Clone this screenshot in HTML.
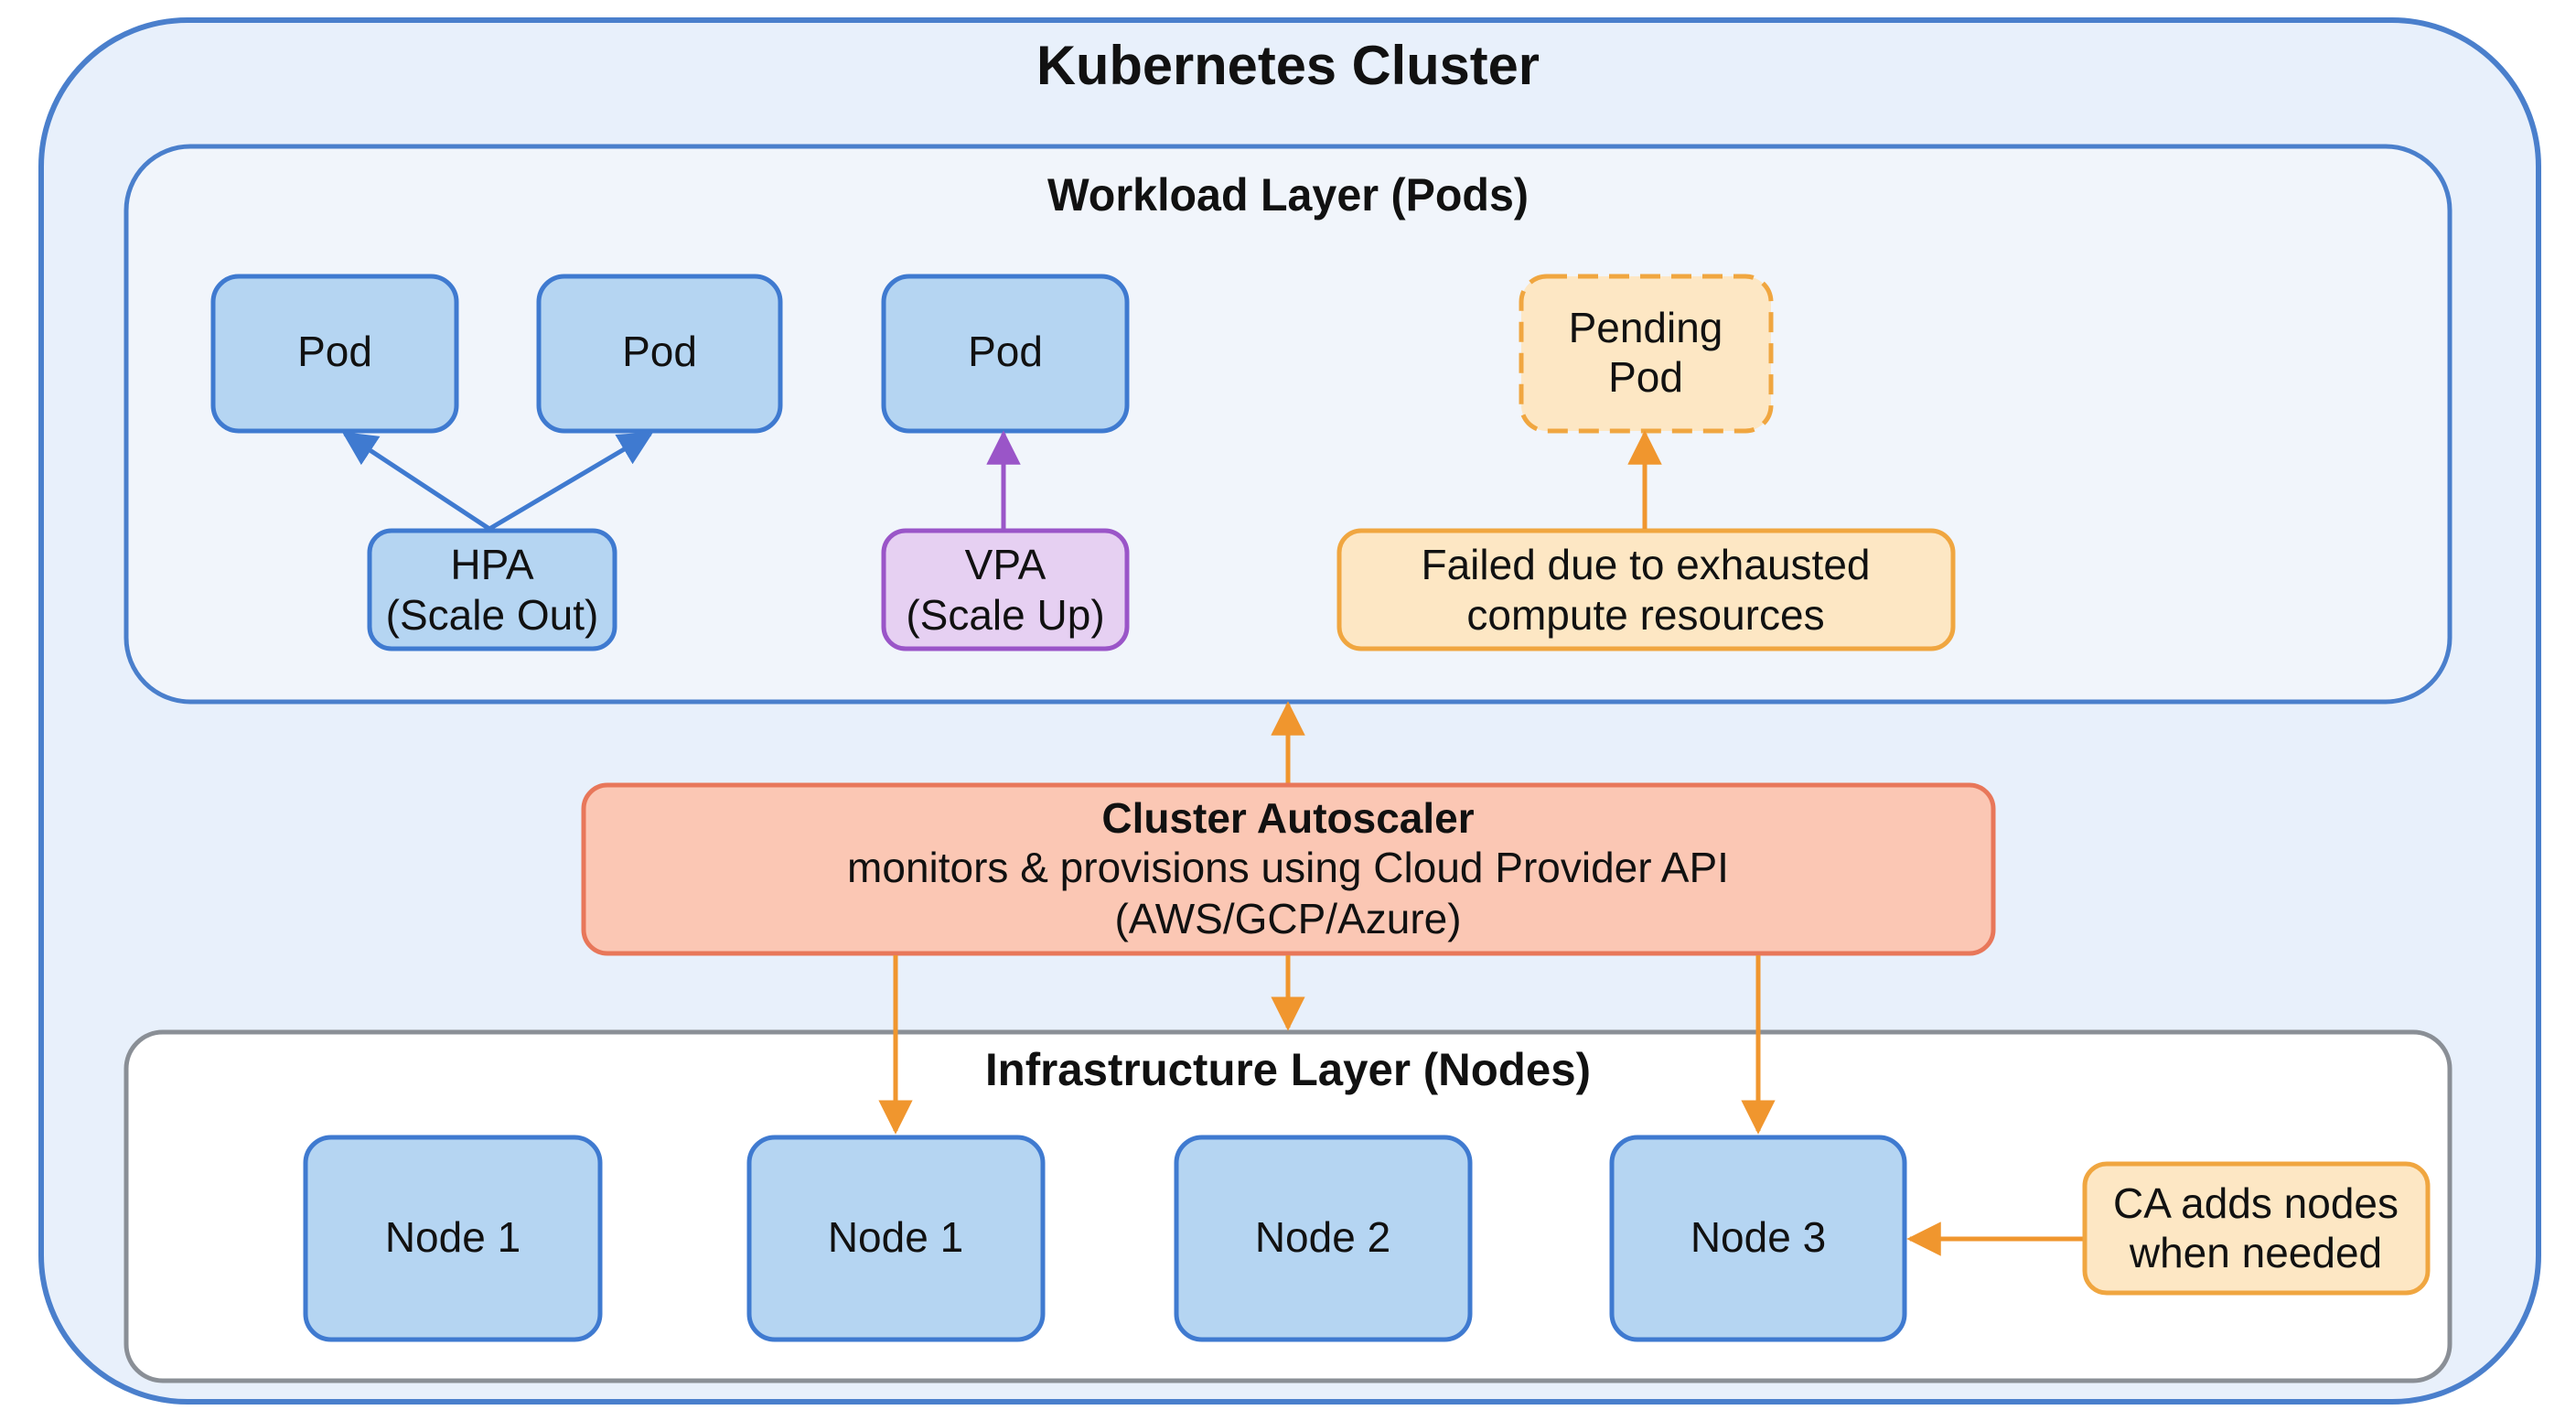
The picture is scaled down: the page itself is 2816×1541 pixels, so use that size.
<!DOCTYPE html>
<html><head><meta charset="utf-8"><style>
body{margin:0;width:2816px;height:1536px;background:#fff;overflow:hidden;font-family:"Liberation Sans",sans-serif}
</style></head><body>
<svg width="2816" height="1536" viewBox="0 0 2816 1536" xmlns="http://www.w3.org/2000/svg" font-family="Liberation Sans, sans-serif">
<defs>
<marker id="ab" viewBox="0 0 10 10" refX="9" refY="5" markerWidth="7.5" markerHeight="7.5" orient="auto-start-reverse"><path d="M0,0L10,5L0,10z" fill="#3f7ad0"/></marker>
<marker id="ap" viewBox="0 0 10 10" refX="9" refY="5" markerWidth="7.5" markerHeight="7.5" orient="auto"><path d="M0,0L10,5L0,10z" fill="#9a55c8"/></marker>
<marker id="ao" viewBox="0 0 10 10" refX="9" refY="5" markerWidth="7.5" markerHeight="7.5" orient="auto"><path d="M0,0L10,5L0,10z" fill="#f0962e"/></marker>
</defs>
<rect x="45" y="22" width="2730" height="1510" rx="160" fill="#e8f0fb" stroke="#4a7fcc" stroke-width="6"/>
<text x="1408" y="92" text-anchor="middle" font-size="60" font-weight="bold" fill="#111" textLength="550" lengthAdjust="spacingAndGlyphs">Kubernetes Cluster</text>
<rect x="138" y="160" width="2540" height="607" rx="70" fill="#f1f5fb" stroke="#4a7fcc" stroke-width="5"/>
<text x="1408" y="230" text-anchor="middle" font-size="50" font-weight="bold" fill="#111" textLength="526" lengthAdjust="spacingAndGlyphs">Workload Layer (Pods)</text>
<g fill="#b5d5f2" stroke="#3f7ad0" stroke-width="5">
<rect x="233" y="302" width="266" height="169" rx="28"/>
<rect x="589" y="302" width="264" height="169" rx="28"/>
<rect x="966" y="302" width="266" height="169" rx="28"/>
<rect x="404" y="580" width="268" height="129" rx="24"/>
</g>
<rect x="1663" y="302" width="273" height="169" rx="28" fill="#fde7c4" stroke="#f0a640" stroke-width="5" stroke-dasharray="22 12"/>
<rect x="966" y="580" width="266" height="129" rx="24" fill="#e6d0f2" stroke="#9a55c8" stroke-width="5"/>
<rect x="1464" y="580" width="671" height="129" rx="24" fill="#fde7c4" stroke="#f0a640" stroke-width="5"/>
<g font-size="46" fill="#111" text-anchor="middle">
<text x="366" y="400">Pod</text><text x="721" y="400">Pod</text><text x="1099" y="400">Pod</text>
<text x="1799" y="374">Pending</text><text x="1799" y="428">Pod</text>
<text x="538" y="633">HPA</text><text x="538" y="688">(Scale Out)</text>
<text x="1099" y="633">VPA</text><text x="1099" y="688">(Scale Up)</text>
<text x="1799" y="633">Failed due to exhausted</text><text x="1799" y="688">compute resources</text>
</g>
<g stroke-width="5" fill="none">
<line x1="535" y1="578" x2="377" y2="474" stroke="#3f7ad0" marker-end="url(#ab)"/>
<line x1="535" y1="578" x2="711" y2="474" stroke="#3f7ad0" marker-end="url(#ab)"/>
<line x1="1097" y1="578" x2="1097" y2="474" stroke="#9a55c8" marker-end="url(#ap)"/>
<line x1="1798" y1="578" x2="1798" y2="474" stroke="#f0962e" marker-end="url(#ao)"/>
<line x1="1408" y1="856" x2="1408" y2="770" stroke="#f0962e" marker-end="url(#ao)"/>
</g>
<rect x="138" y="1128" width="2540" height="381" rx="40" fill="#fff" stroke="#8a8f96" stroke-width="5"/>
<rect x="638" y="858" width="1541" height="184" rx="26" fill="#fbc7b4" stroke="#e8775a" stroke-width="5"/>
<g font-size="46" fill="#111" text-anchor="middle">
<text x="1408" y="910" font-weight="bold">Cluster Autoscaler</text>
<text x="1408" y="964">monitors &amp; provisions using Cloud Provider API</text>
<text x="1408" y="1020">(AWS/GCP/Azure)</text>
</g>
<g stroke="#f0962e" stroke-width="5">
<line x1="979" y1="1044" x2="979" y2="1236" marker-end="url(#ao)"/>
<line x1="1408" y1="1044" x2="1408" y2="1123" marker-end="url(#ao)"/>
<line x1="1922" y1="1044" x2="1922" y2="1236" marker-end="url(#ao)"/>
<line x1="2279" y1="1354" x2="2088" y2="1354" marker-end="url(#ao)"/>
</g>
<text x="1408" y="1186" text-anchor="middle" font-size="50" font-weight="bold" fill="#111" textLength="662" lengthAdjust="spacingAndGlyphs">Infrastructure Layer (Nodes)</text>
<g fill="#b5d5f2" stroke="#3f7ad0" stroke-width="5">
<rect x="334" y="1243" width="322" height="221" rx="28"/>
<rect x="819" y="1243" width="321" height="221" rx="28"/>
<rect x="1286" y="1243" width="321" height="221" rx="28"/>
<rect x="1762" y="1243" width="320" height="221" rx="28"/>
</g>
<rect x="2279" y="1272" width="375" height="141" rx="24" fill="#fde7c4" stroke="#f0a640" stroke-width="5"/>
<g font-size="46" fill="#111" text-anchor="middle">
<text x="495" y="1368">Node 1</text><text x="979" y="1368">Node 1</text>
<text x="1446" y="1368">Node 2</text><text x="1922" y="1368">Node 3</text>
<text x="2466" y="1331">CA adds nodes</text><text x="2466" y="1385">when needed</text>
</g>
</svg>
</body></html>
